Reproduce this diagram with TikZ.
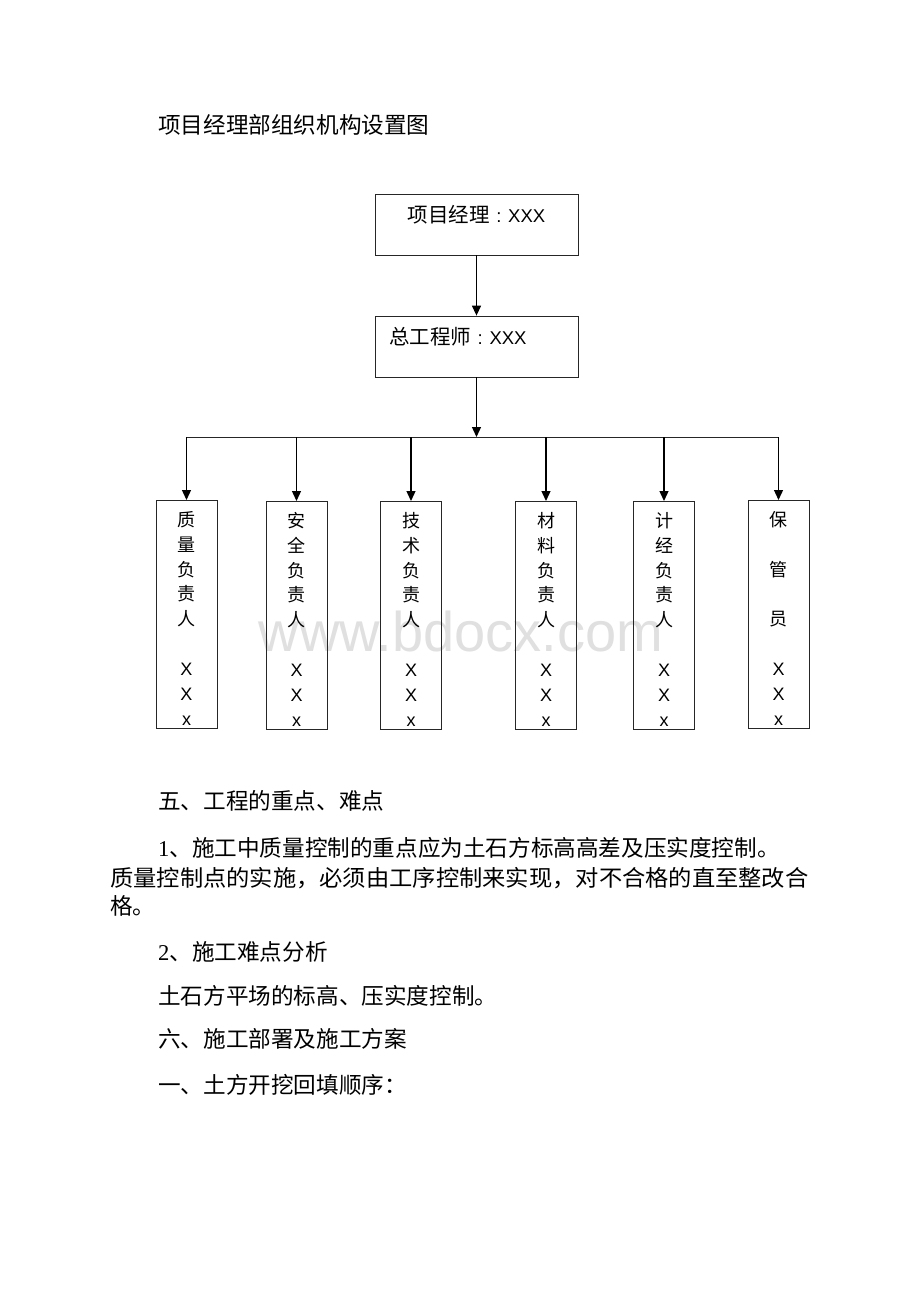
\documentclass[tikz,border=0pt]{standalone}
\usepackage{fontspec}
\usepackage{graphicx}
\setmainfont{Liberation Sans}
\newfontfamily\cjk{Noto Sans CJK SC}
\newfontfamily\numfont{Liberation Serif}
\newcommand\namesep{\makebox[1em]{:}}
\newcommand\boxcjk{\fontsize{20.5}{22}\selectfont\cjk}
\newcommand\firstrow{\rule{0pt}{22.8pt}}
\usetikzlibrary{arrows.meta}

\begin{document}
\begin{tikzpicture}[x=1pt,y=-1pt,
  box/.style={draw=black!85,line width=0.8pt,inner xsep=14pt,inner ysep=0pt,
    text width=175pt,text height=28pt,text depth=33pt,font=\fontsize{18.5}{22}\selectfont},
  col/.style={draw=black!85,line width=0.8pt,minimum width=61pt,minimum height=228pt,
    inner sep=0pt,align=center,anchor=north,font=\fontsize{18}{24.9}\selectfont\cjk},
  arr/.style={line width=1.3pt,-{Triangle[length=10pt,width=9pt]}},
  bus/.style={line width=0.9pt,black!85},
  body/.style={anchor=base west,inner sep=0pt,font=\fontsize{22.6}{26}\selectfont\cjk}]
\useasboundingbox (0,0) rectangle (920,1302);
\fill[white] (0,0) rectangle (920,1302);

% watermark
\node[anchor=base,inner sep=0pt,text=black!12,font=\fontsize{56}{60}\selectfont] (wm) at (461,651) {www.bdocx.com};

\node[body] (title) at (158,133) {项目经理部组织机构设置图};

% chart
\node[box,align=center] (pm) at (476.5,224.5) {{\boxcjk 项目经理}\namesep XXX};
\node[box,align=left] (ce) at (476.5,346.5) {{\boxcjk 总工程师}\namesep XXX};
\coordinate (bus) at (476.5,437);

\node[col] (zl) at (186.5,500) {\firstrow 质\\量\\负\\责\\人\\\mbox{}\\{\rmfamily X}\\{\rmfamily X}\\{\rmfamily x}};
\node[col] (aq) at (296.5,501) {\firstrow 安\\全\\负\\责\\人\\\mbox{}\\{\rmfamily X}\\{\rmfamily X}\\{\rmfamily x}};
\node[col] (js) at (411,501) {\firstrow 技\\术\\负\\责\\人\\\mbox{}\\{\rmfamily X}\\{\rmfamily X}\\{\rmfamily x}};
\node[col] (cl) at (546,501) {\firstrow 材\\料\\负\\责\\人\\\mbox{}\\{\rmfamily X}\\{\rmfamily X}\\{\rmfamily x}};
\node[col] (jj) at (664,501) {\firstrow 计\\经\\负\\责\\人\\\mbox{}\\{\rmfamily X}\\{\rmfamily X}\\{\rmfamily x}};
\node[col] (bg) at (778.5,500) {\firstrow 保\\\mbox{}\\管\\\mbox{}\\员\\\mbox{}\\{\rmfamily X}\\{\rmfamily X}\\{\rmfamily x}};

\draw[arr] (pm) -- (ce);
\draw[arr] (ce) -- (bus);
\draw[bus] (zl.north |- bus) -- (bg.north |- bus);
\foreach \n in {zl,aq,js,cl,jj,bg}
  \draw[arr] (\n.north |- bus) -- (\n);

% text below
\node[body] (h5) at (158,809) {五、工程的重点、难点};
\node[body] (p1) at (158,856) {{\numfont 1}、施工中质量控制的重点应为土石方标高高差及压实度控制。};
\node[body] (p1b) at (110,886) {\scalebox{1.03}[1]{质量控制点的实施，必须由工序控制来实现，对不合格的直至整改合}};
\node[body] (p1c) at (110,914) {格。};
\node[body] (h2) at (158,960) {{\numfont 2}、施工难点分析};
\node[body] (p2) at (158,1004) {土石方平场的标高、压实度控制。};
\node[body] (h6) at (158,1047) {六、施工部署及施工方案};
\node[body] (s1) at (158,1093) {一、土方开挖回填顺序：};
\end{tikzpicture}
\end{document}
